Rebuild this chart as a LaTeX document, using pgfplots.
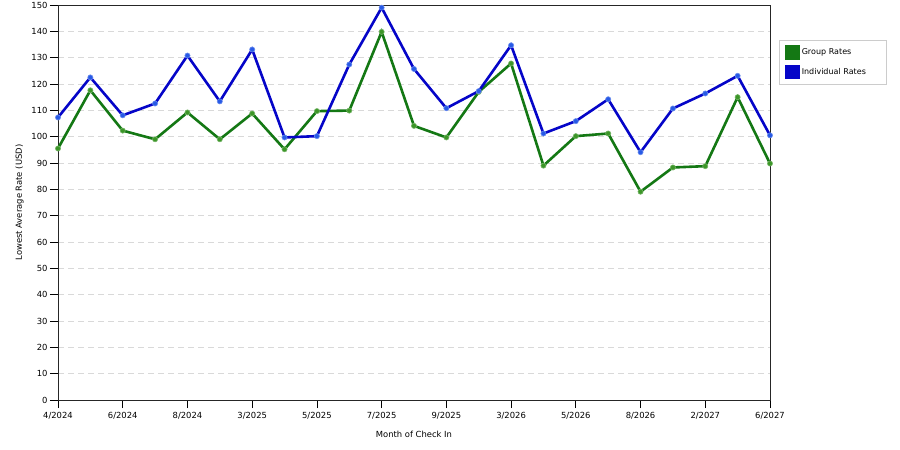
\documentclass[border=0pt]{standalone}
\usepackage{fontspec}
\setmainfont{DejaVu Sans}
\usepackage{pgfplots}
\pgfplotsset{compat=1.18}
\definecolor{grp}{RGB}{20,120,20}
\definecolor{ind}{RGB}{5,5,200}
\definecolor{grpmk}{RGB}{60,150,40}
\definecolor{indmk}{RGB}{40,90,230}

\begin{document}
\begin{tikzpicture}
\useasboundingbox (0,0) rectangle (900bp,450bp);
\begin{axis}[
    at={(58bp,50bp)}, anchor=south west,
    scale only axis,
    width=712bp, height=395bp,
    xmin=0, xmax=22,
    ymin=0, ymax=150,
    xtick={0,2,...,22},
    xticklabels={4/2024,6/2024,8/2024,3/2025,5/2025,7/2025,9/2025,3/2026,5/2026,8/2026,2/2027,6/2027},
    ytick={0,10,...,150},
    tick align=outside,
    major tick length=8bp,
    tick style={black, line width=0.8bp},
    xtick pos=bottom, ytick pos=left,
    axis line style={black!85, line width=0.8bp},
    ymajorgrids=true,
    grid style={dash pattern=on 6bp off 4bp, black!15, line width=0.6bp},
    /pgf/number format/assume math mode=true,
    tick label style={font=\fontsize{8.4bp}{10bp}\selectfont},
    xticklabel style={yshift=-1bp},
    yticklabel style={xshift=1bp},
    label style={font=\fontsize{8.4bp}{10bp}\selectfont},
    xlabel={Month of Check In},
    ylabel={Lowest Average Rate (USD)},
    xlabel style={yshift=-5bp},
    ylabel style={yshift=1bp},
    legend style={at={(1,1)}, anchor=north west, xshift=9bp, yshift=-35bp,
        draw=black!20, font=\fontsize{8bp}{10bp}\selectfont,
        inner xsep=6bp, inner ysep=5bp, row sep=5bp, cells={anchor=west},
        minimum width=0bp, text width=76bp},
    legend cell align=left,
]
\addplot[grp, line width=2.6bp, mark=*, mark size=2.6bp,
    mark options={fill=grpmk, draw=grpmk!70, line width=0.6bp},
    legend image code/.code={\fill[grp] (0bp,-6bp) rectangle (12bp,6bp);}]
coordinates {
(0,95.5) (1,117.6) (2,102.3) (3,99) (4,109.2) (5,99) (6,108.8) (7,95.2)
(8,109.7) (9,109.9) (10,139.8) (11,104.1) (12,99.7) (13,117) (14,127.8)
(15,89) (16,100.2) (17,101.2) (18,79.1) (19,88.3) (20,88.8) (21,115) (22,89.8)
};
\addlegendentry{Group Rates}
\addplot[ind, line width=2.6bp, mark=*, mark size=2.6bp,
    mark options={fill=indmk, draw=indmk!70, line width=0.6bp},
    legend image code/.code={\fill[ind] (0bp,-6bp) rectangle (12bp,6bp);}]
coordinates {
(0,107.3) (1,122.5) (2,108.1) (3,112.6) (4,130.8) (5,113.4) (6,133.1) (7,99.7)
(8,100.2) (9,127.4) (10,149) (11,125.7) (12,110.8) (13,117.3) (14,134.7)
(15,101.2) (16,105.9) (17,114.2) (18,94.1) (19,110.7) (20,116.4) (21,123.1) (22,100.5)
};
\addlegendentry{Individual Rates}
\end{axis}
\end{tikzpicture}
\end{document}
